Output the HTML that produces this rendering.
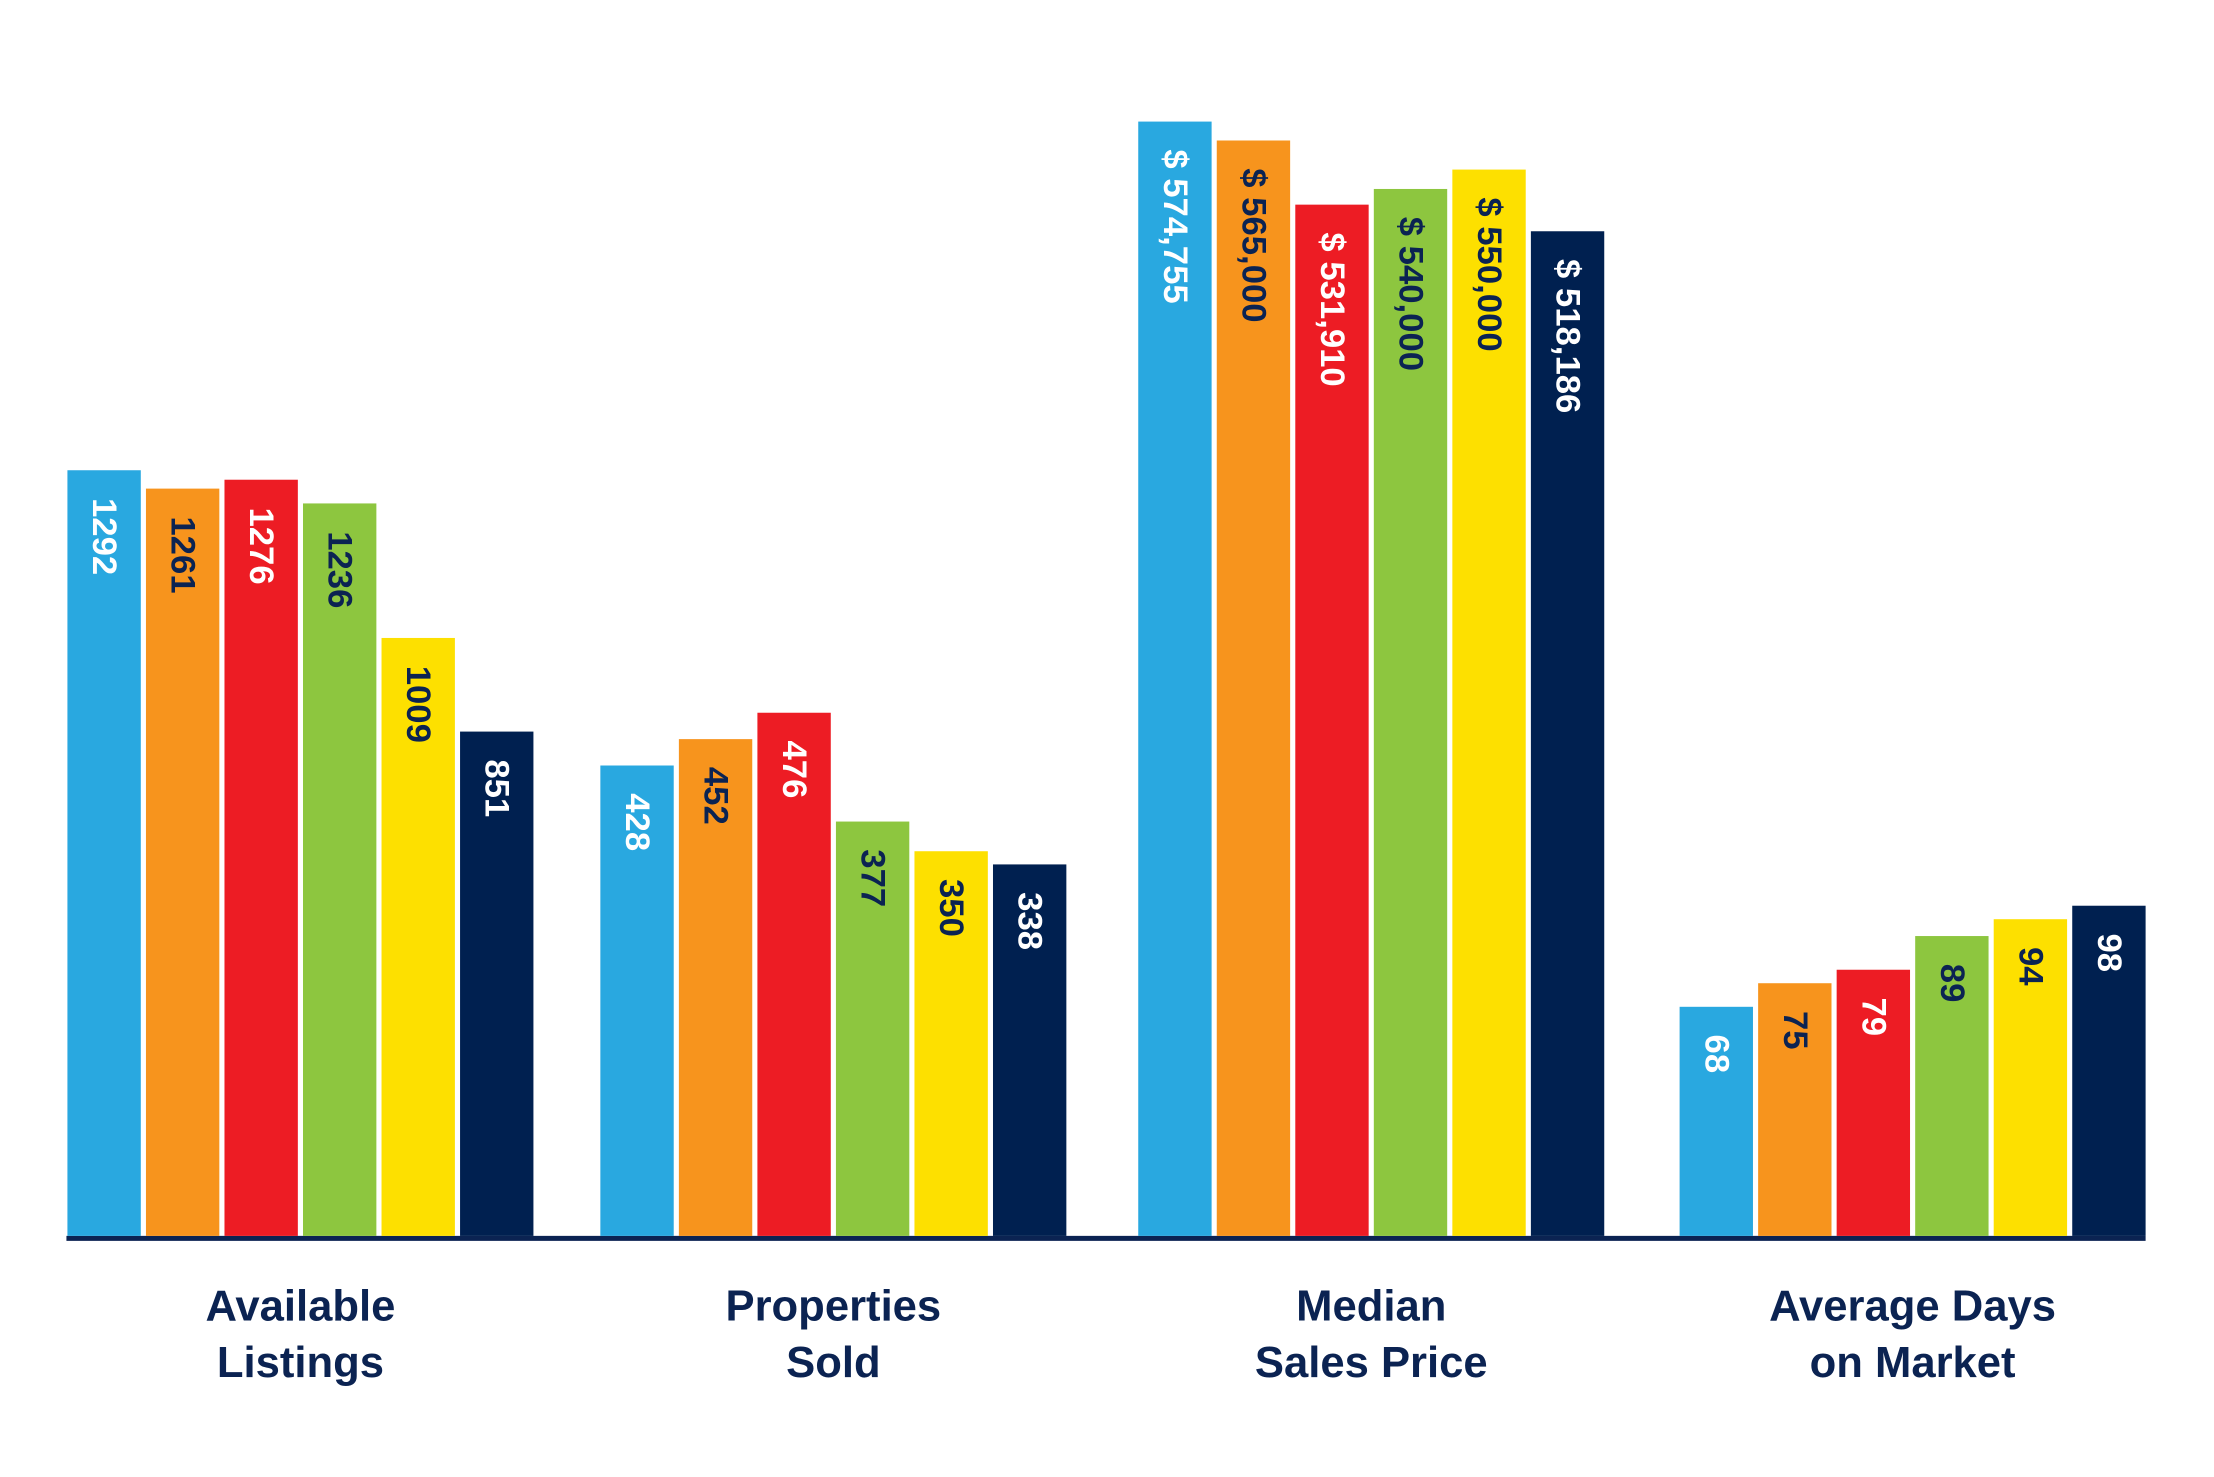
<!DOCTYPE html>
<html><head><meta charset="utf-8">
<style>
html,body{margin:0;padding:0;background:#fff;}
svg{display:block;}
text{font-family:"Liberation Sans",sans-serif;}
</style></head>
<body>
<svg id="chart" width="2214" height="1477" viewBox="0 0 2214 1477" xmlns="http://www.w3.org/2000/svg">
<g transform="scale(0.9915)">
<line x1="67" y1="1249" x2="2164" y2="1249" stroke="#0b2352" stroke-width="5"/>
<g id="bars"></g>
<g id="cats"></g>
</g>
</svg>
<script>
const categories = [["Available","Listings"],["Properties","Sold"],["Median","Sales Price"],["Average Days","on Market"]];
const listingsValues = [1292,1261,1276,1236,1009,851];
const soldValues = [428,452,476,377,350,338];
const priceValues = [574755,565000,531910,540000,550000,518186];
const daysValues = [68,75,79,89,94,98];
const listingsLabels = ["1292","1261","1276","1236","1009","851"];
const soldLabels = ["428","452","476","377","350","338"];
const priceLabels = ["$ 574,755","$ 565,000","$ 531,910","$ 540,000","$ 550,000","$ 518,186"];
const daysLabels = ["68","75","79","89","94","98"];
const groupMax = [1300, 480, 580000, 100];

const NS="http://www.w3.org/2000/svg";
const baseline=1246.5;
const groupStarts=[68,605.5,1148,1694];
const pitch=79.2, barW=74;
const groupPxMax=[0.5977*1300, 1.1085*480, 0.0019554*580000, 3.398*100];
const colors=["#29a8e0","#f7941d","#ed1c24","#8dc63f","#fde000","#002050"];
const txtColors=["#ffffff","#0b2352","#ffffff","#0b2352","#0b2352","#ffffff"];
const series=[listingsValues,soldValues,priceValues,daysValues];
const labels=[listingsLabels,soldLabels,priceLabels,daysLabels];
const names=["available-listings","properties-sold","median-sales-price","average-days"];
function yScale(g,v){return baseline - v/groupMax[g]*groupPxMax[g];}
const barsG=document.getElementById('bars');
const catsG=document.getElementById('cats');
series.forEach((vals,g)=>{
  vals.forEach((v,i)=>{
    const x=groupStarts[g]+i*pitch;
    const y=yScale(g,v);
    const r=document.createElementNS(NS,'rect');
    r.setAttribute('x',x);r.setAttribute('y',y);
    r.setAttribute('width',barW);r.setAttribute('height',baseline-y);
    r.setAttribute('fill',colors[i]);
    
    
    barsG.appendChild(r);
    const t=document.createElementNS(NS,'text');
    const cx=x+barW/2, ty=y+28;
    t.setAttribute('x',cx);t.setAttribute('y',ty);
    t.setAttribute('transform','rotate(90 '+cx+' '+ty+')');
    t.setAttribute('dominant-baseline','central');
    t.setAttribute('font-size','35');
    t.setAttribute('font-weight','bold');
    t.setAttribute('fill',txtColors[i]);
    t.textContent=labels[g][i];
    
    
    barsG.appendChild(t);
  });
  const cx=groupStarts[g]+(5*pitch+barW)/2;
  categories[g].forEach((line,k)=>{
    const t=document.createElementNS(NS,'text');
    t.setAttribute('x',cx);t.setAttribute('y',1332+k*57);
    t.setAttribute('text-anchor','middle');
    t.setAttribute('font-size','44');
    t.setAttribute('font-weight','bold');
    t.setAttribute('fill','#0b2352');
    t.textContent=line;
    
    
    catsG.appendChild(t);
  });
});
</script>
</body></html>
